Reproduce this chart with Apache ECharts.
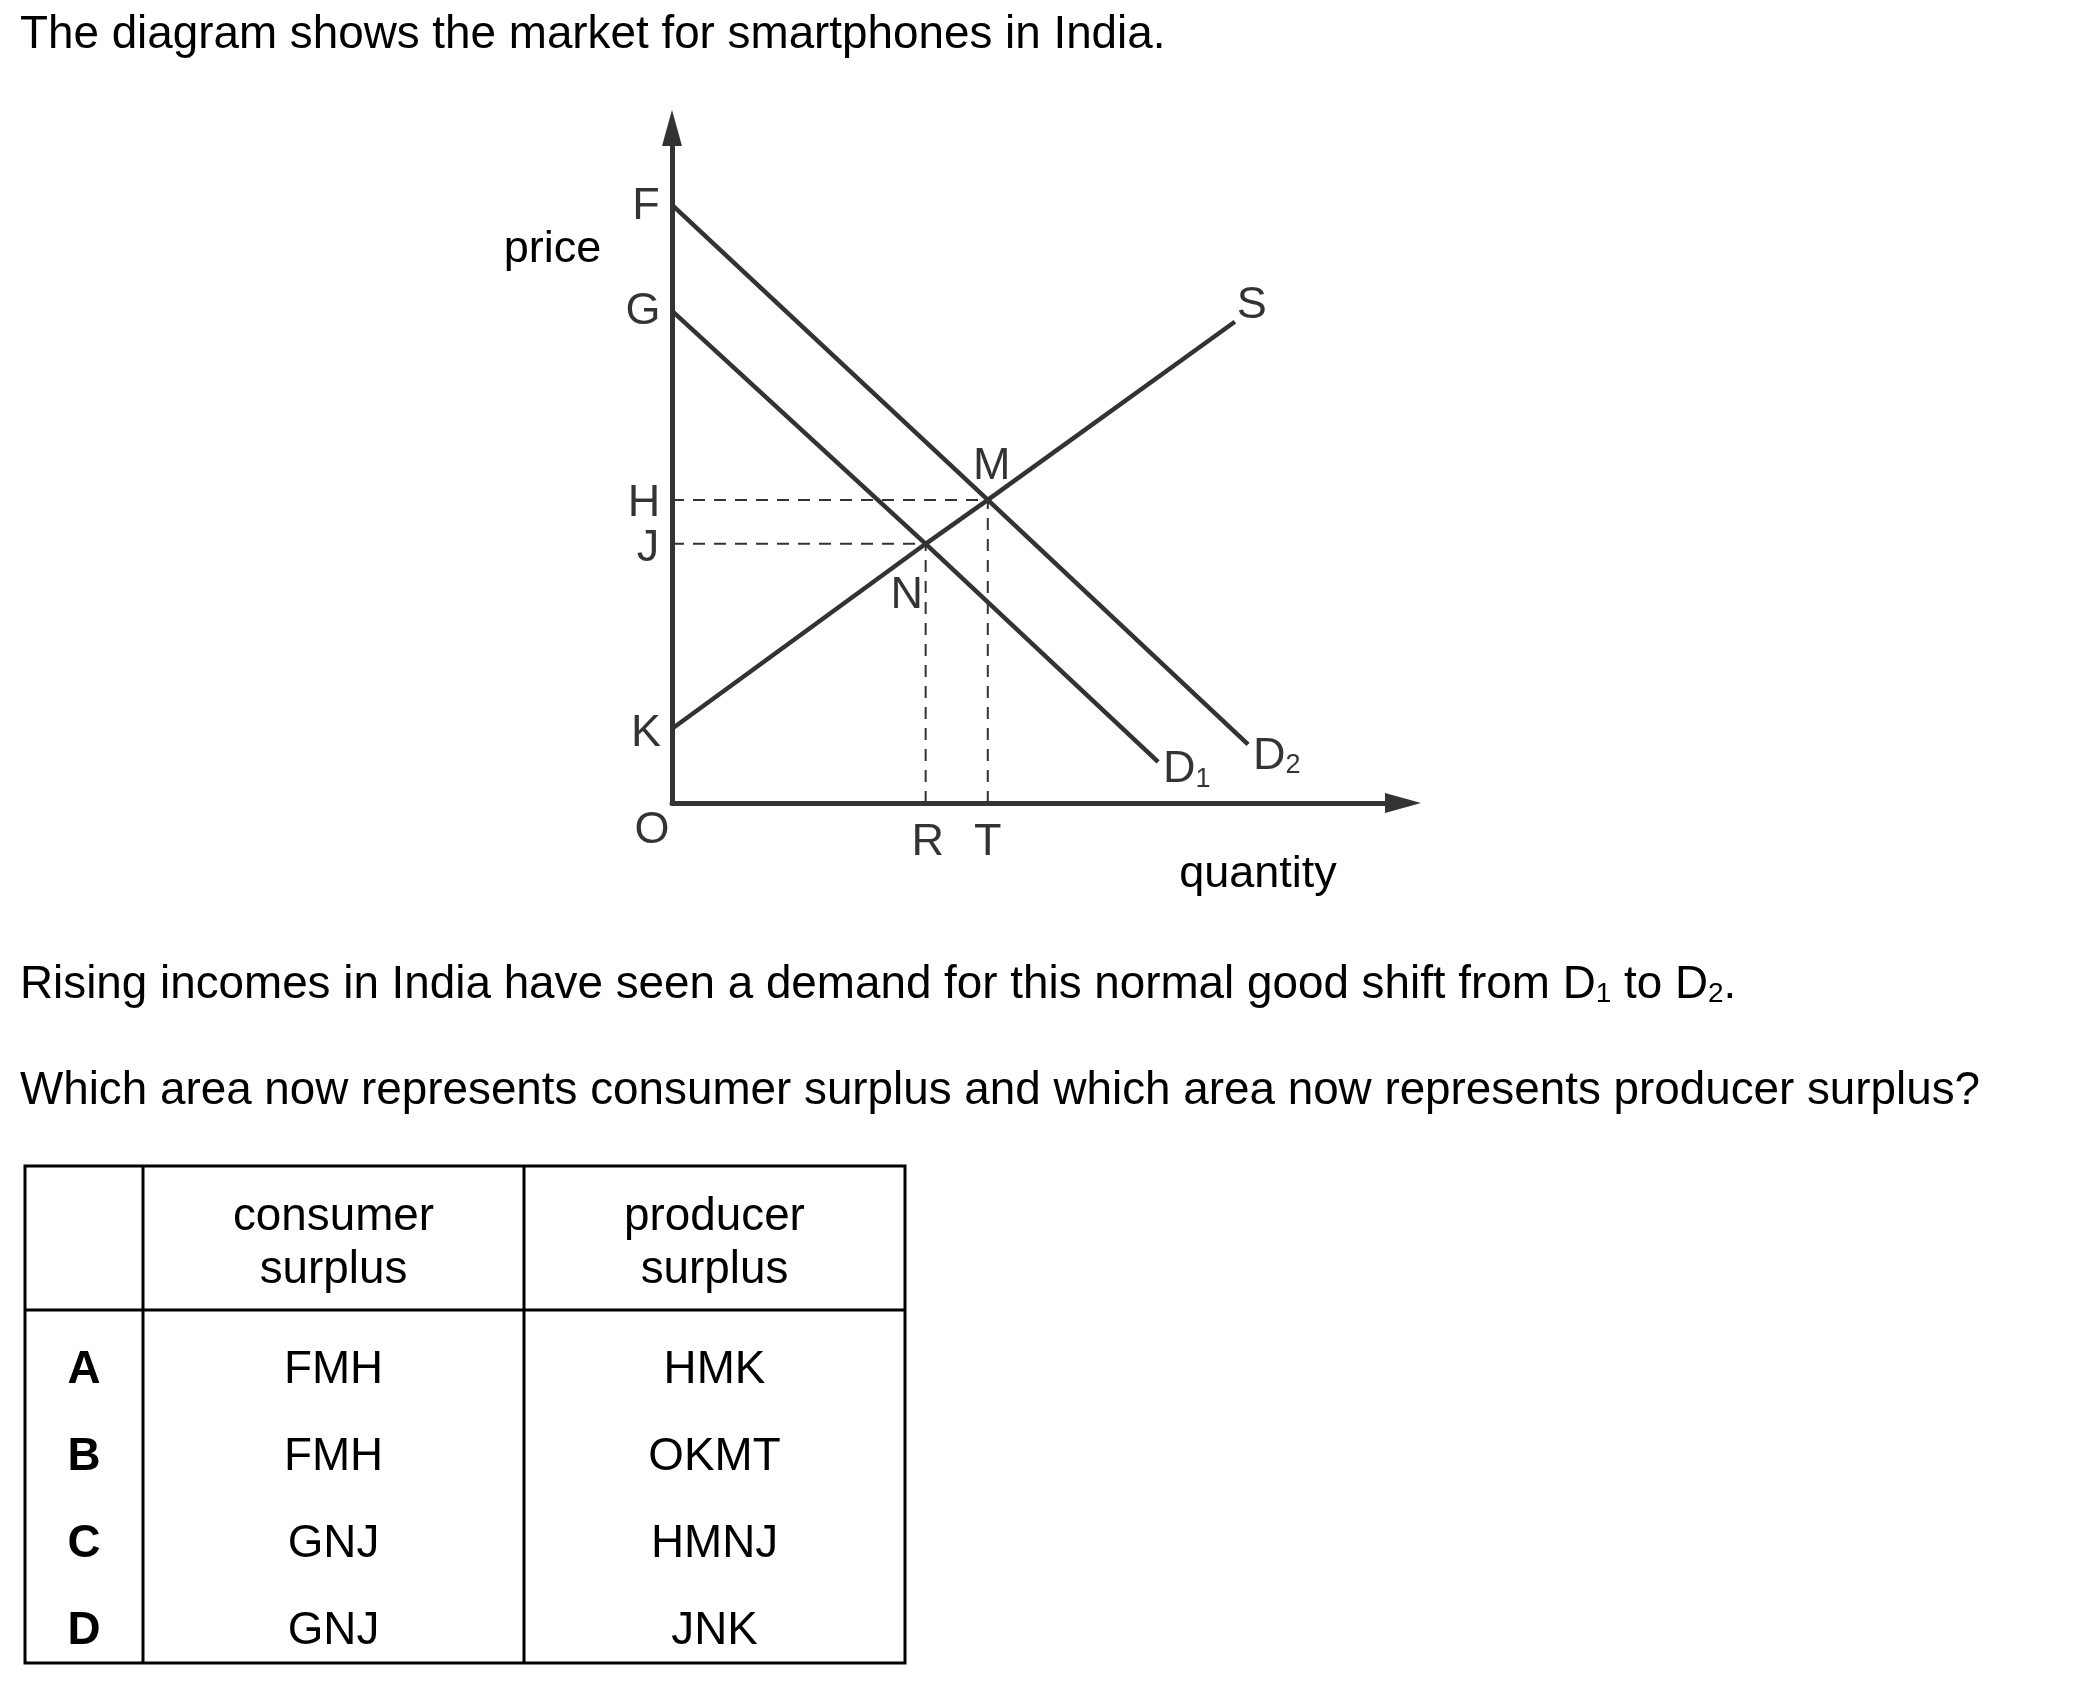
<!DOCTYPE html>
<html><head><meta charset="utf-8">
<script src="https://cdn.jsdelivr.net/npm/echarts@6/dist/echarts.min.js"></script>
<style>html,body{margin:0;padding:0;background:#fff;}#chart{width:2100px;height:1684px;}</style>
</head><body><div id="chart"></div>
<script>
// ---- data ----
const priceLabels = ['F', 'G', 'H', 'J', 'K'];
const priceValues = [88.6, 72.9, 44.9, 38.4, 11.0];
const quantityLabels = ['R', 'T'];
const quantityValues = [34.7, 43.2];
const d1Quantity = [0, 34.7, 66.5];
const d1Price = [72.9, 38.4, 6.1];
const d2Quantity = [0, 43.2, 78.8];
const d2Price = [88.6, 44.9, 8.7];
const sQuantity = [0, 34.7, 43.2, 77.0];
const sPrice = [11.0, 38.4, 44.9, 71.3];
const introText = 'The diagram shows the market for smartphones in India.';
const shiftText = 'Rising incomes in India have seen a demand for this normal good shift from D{s|1} to D{s|2}.';
const questionText = 'Which area now represents consumer surplus and which area now represents producer surplus?';
const tableHeaders = ['consumer\nsurplus', 'producer\nsurplus'];
const optionLetters = ['A', 'B', 'C', 'D'];
const consumerAnswers = ['FMH', 'FMH', 'GNJ', 'GNJ'];
const producerAnswers = ['HMK', 'OKMT', 'HMNJ', 'JNK'];

// ---- styling / layout ----
const FONT = "'Liberation Sans', Arial, Helvetica, sans-serif";
const LINE = '#333';
const TEXT_SIZE = 45.8;
const zip = (a, b) => a.map((v, i) => [v, b[i]]);
const last = (a) => a[a.length - 1];

const labelStyle = {
  F: { offset: [-26, 2] }, G: { offset: [-29, 1] }, H: { offset: [-28, 4] },
  J: { offset: [-24, 5] }, K: { offset: [-26, 5] }, O: { offset: [-20, 28] },
  M: { offset: [4, -33] }, N: { offset: [-19, 52] }, R: { offset: [2, 40] },
  T: { offset: [0, 40] }, S: { offset: [17, -16] },
  D1: { offset: [5, 8], align: 'left', formatter: 'D{s|1}' },
  D2: { offset: [5, 12], align: 'left', formatter: 'D{s|2}' }
};

const H = priceValues[2], J = priceValues[3];
const R = quantityValues[0], T = quantityValues[1];

const labelPoints = [];
priceLabels.forEach((n, i) => labelPoints.push([n, 0, priceValues[i]]));
labelPoints.push(['O', 0, 0]);
labelPoints.push(['M', T, H]);
labelPoints.push(['N', R, J]);
quantityLabels.forEach((n, i) => labelPoints.push([n, quantityValues[i], 0]));
labelPoints.push(['S', last(sQuantity), last(sPrice)]);
labelPoints.push(['D1', last(d1Quantity), last(d1Price)]);
labelPoints.push(['D2', last(d2Quantity), last(d2Price)]);

const solid = { color: LINE, width: 4.5 };
const dashed = { color: LINE, width: 2, type: [12, 9] };
function lineSeries(data, style) {
  return { type: 'line', data: data, symbol: 'none', lineStyle: style, silent: true, z: 3 };
}

// table geometry
const tb = { left: 25, right: 905, top: 1166, bottom: 1663, col1: 143, col2: 524, head: 1310 };
const colCenters = [(tb.left + tb.col1) / 2, (tb.col1 + tb.col2) / 2, (tb.col2 + tb.right) / 2];
const rowY0 = 1370, rowStep = 87;

function txt(x, y, text, extra) {
  return {
    type: 'text', x: x, y: y, silent: true,
    style: Object.assign({
      text: text, fontSize: TEXT_SIZE, fontFamily: FONT, fill: '#000',
      align: 'left', verticalAlign: 'middle', textAlign: 'left', textVerticalAlign: 'middle'
    }, extra || {})
  };
}

const graphics = [
  txt(20, 35.5, introText),
  txt(20, 985, shiftText, { lineHeight: 46, rich: { s: { fontSize: 28, lineHeight: 18, verticalAlign: 'bottom', fontFamily: FONT, fill: '#000' } } }),
  txt(20, 1091, questionText),
  txt(552.5, 250, 'price', { fontSize: 45, align: 'center', textAlign: 'center' }),
  txt(1258, 875, 'quantity', { fontSize: 45, align: 'center', textAlign: 'center' }),
  { type: 'rect', silent: true, shape: { x: tb.left, y: tb.top, width: tb.right - tb.left, height: tb.bottom - tb.top }, style: { fill: 'none', stroke: '#000', lineWidth: 3 } },
  { type: 'line', silent: true, shape: { x1: tb.col1, y1: tb.top, x2: tb.col1, y2: tb.bottom }, style: { stroke: '#000', lineWidth: 3 } },
  { type: 'line', silent: true, shape: { x1: tb.col2, y1: tb.top, x2: tb.col2, y2: tb.bottom }, style: { stroke: '#000', lineWidth: 3 } },
  { type: 'line', silent: true, shape: { x1: tb.left, y1: tb.head, x2: tb.right, y2: tb.head }, style: { stroke: '#000', lineWidth: 3 } }
];
tableHeaders.forEach((h, i) => {
  graphics.push(txt(colCenters[i + 1], 1244, h, { align: 'center', textAlign: 'center', lineHeight: 53 }));
});
optionLetters.forEach((l, i) => {
  const y = rowY0 + i * rowStep;
  graphics.push(txt(colCenters[0], y, l, { align: 'center', textAlign: 'center', fontWeight: 'bold' }));
  graphics.push(txt(colCenters[1], y, consumerAnswers[i], { align: 'center', textAlign: 'center' }));
  graphics.push(txt(colCenters[2], y, producerAnswers[i], { align: 'center', textAlign: 'center' }));
});

const axisLine = {
  show: true, onZero: false,
  symbol: ['none', 'triangle'], symbolSize: [20, 36],
  lineStyle: { color: LINE, width: 5 }
};

const chart = echarts.init(document.getElementById('chart'), null, { renderer: 'canvas' });
chart.setOption({
  backgroundColor: '#ffffff',
  animation: false,
  grid: { left: 672, right: 697, top: 128, bottom: 881, containLabel: false },
  xAxis: { type: 'value', min: 0, max: 100, axisLine: axisLine, axisTick: { show: false }, axisLabel: { show: false }, splitLine: { show: false } },
  yAxis: { type: 'value', min: 0, max: 100, axisLine: axisLine, axisTick: { show: false }, axisLabel: { show: false }, splitLine: { show: false } },
  series: [
    lineSeries([[0, H], [T, H]], dashed),
    lineSeries([[0, J], [R, J]], dashed),
    lineSeries([[R, 0], [R, J]], dashed),
    lineSeries([[T, 0], [T, H]], dashed),
    lineSeries(zip(d1Quantity, d1Price), solid),
    lineSeries(zip(d2Quantity, d2Price), solid),
    lineSeries(zip(sQuantity, sPrice), solid),
    {
      type: 'scatter', symbolSize: 0, silent: true, z: 5,
      data: labelPoints.map(p => ({
        name: p[0], value: [p[1], p[2]],
        label: Object.assign({}, labelStyle[p[0]])
      })),
      label: {
        show: true, position: 'inside', formatter: '{b}',
        fontSize: 45, fontFamily: FONT, color: '#000', lineHeight: 46,
        rich: { s: { fontSize: 27, lineHeight: 16, verticalAlign: 'bottom', fontFamily: FONT, color: '#000' } }
      }
    }
  ],
  graphic: graphics
});
</script></body></html>
